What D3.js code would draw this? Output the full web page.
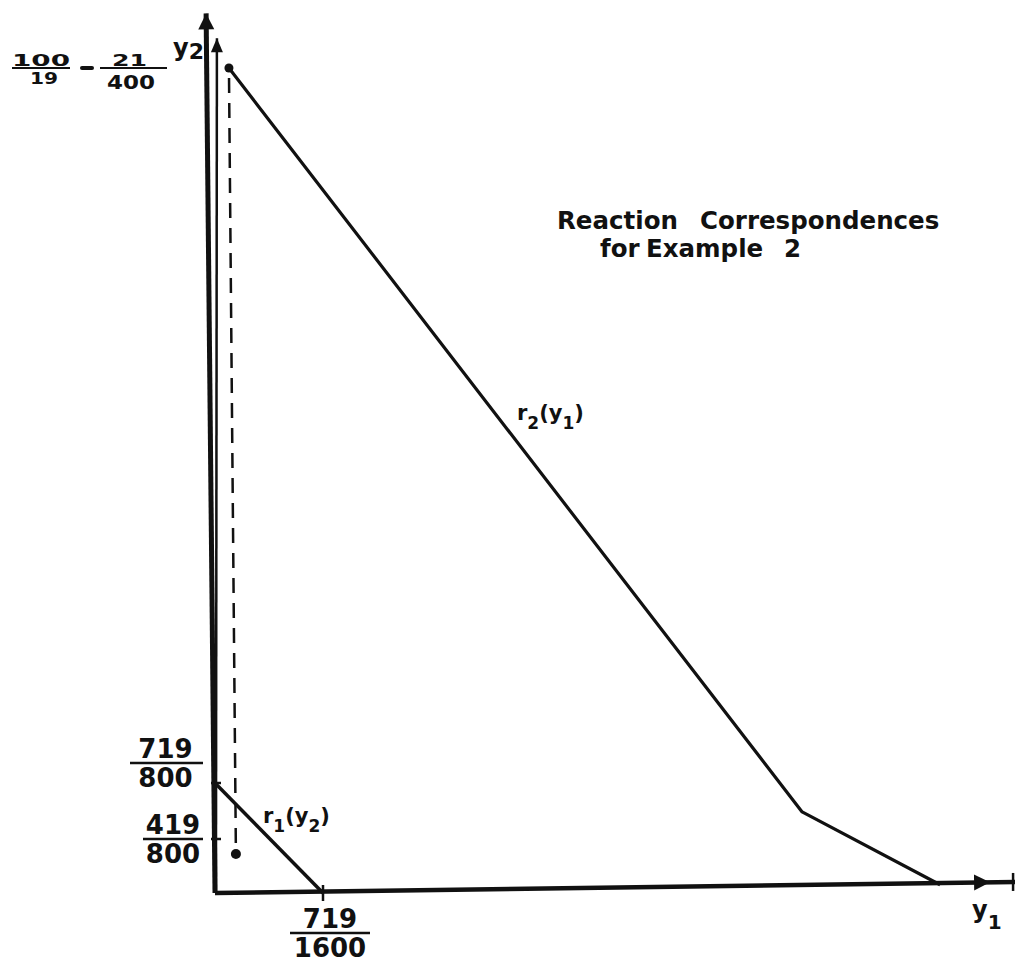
<!DOCTYPE html>
<html>
<head>
<meta charset="utf-8">
<script src="https://cdn.jsdelivr.net/npm/d3@7"></script>
<style>
  html, body { margin: 0; padding: 0; background: #fff; }
  svg text { font-family: "DejaVu Sans", sans-serif; font-weight: bold; fill: #111; }
</style>
</head>
<body>
<div id="chart"></div>
<script>
var width = 1015,
  height = 971;

// values (y1 across, y2 up)
var y2Top = 100 / 19 - 21 / 400;          // top of r2
var y2Ticks = [419 / 800, 719 / 800];
var y2TickNum = ["419", "719"];
var y2TickDen = ["800", "800"];
var y1Ticks = [719 / 1600];
var y1TickNum = ["719"];
var y1TickDen = ["1600"];

var r1Points = [[0, 719 / 800], [719 / 1600, 0]];
var r2Points = [[0.058, y2Top], [2.443, 0.705], [3.017, 0.08]];
var dotPoints = [[0.058, y2Top], [0.087, 0.378]];

// the hand drawn axes lean a little
var xAxisPoints = [[0, 0], [3.329, 0.107]];
var yAxisOuter = [[0, 0], [-0.037, 5.54]];
var yAxisInner = [[0.004, 0], [0.008, 5.39]];

var svg = d3.select("#chart")
  .append("svg")
  .attr("width", width)
  .attr("height", height);

// piecewise scale, the sketch is not to scale on y2
var x = d3.scaleLinear()
  .domain([0, 719 / 1600])
  .range([215, 323]);

var y = d3.scaleLinear()
  .domain([0, 419 / 800, 719 / 800, y2Top])
  .range([893, 839, 783, 68]);

var line = d3.line()
  .x(function (d) { return x(d[0]); })
  .y(function (d) { return y(d[1]); });

var ink = "#111";

function arrowHead(p0, p1, len, half) {
  var x0 = x(p0[0]), y0 = y(p0[1]), x1 = x(p1[0]), y1 = y(p1[1]);
  var dx = x1 - x0, dy = y1 - y0, L = Math.sqrt(dx * dx + dy * dy);
  var ux = dx / L, uy = dy / L;
  var bx = x1 - ux * len, by = y1 - uy * len;
  svg.append("path")
    .attr("d", "M" + x1 + "," + y1 +
      "L" + (bx - uy * half) + "," + (by + ux * half) +
      "L" + (bx + uy * half) + "," + (by - ux * half) + "Z")
    .attr("fill", ink);
}

// axes
svg.append("path").datum(yAxisOuter).attr("d", line)
  .attr("stroke", ink).attr("stroke-width", 5).attr("fill", "none");
arrowHead(yAxisOuter[0], yAxisOuter[1], 16, 8);

svg.append("path").datum(yAxisInner).attr("d", line)
  .attr("stroke", ink).attr("stroke-width", 2.5).attr("fill", "none");
arrowHead(yAxisInner[0], yAxisInner[1], 14, 6);

svg.append("path").datum(xAxisPoints).attr("d", line)
  .attr("stroke", ink).attr("stroke-width", 4.5).attr("fill", "none");
// arrow sits a bit before the end of the x axis
var tipX = 3.225;
var tipPoint = [tipX, xAxisPoints[1][1] * tipX / xAxisPoints[1][0]];
arrowHead(xAxisPoints[0], tipPoint, 16, 8);
var endX = x(xAxisPoints[1][0]) - 2, endY = y(xAxisPoints[1][1]);
svg.append("line")
  .attr("x1", endX).attr("x2", endX)
  .attr("y1", endY - 9).attr("y2", endY + 9)
  .attr("stroke", ink).attr("stroke-width", 2.5);

// ticks
y2Ticks.forEach(function (v) {
  svg.append("line")
    .attr("x1", x(0) - 4).attr("x2", x(0) + 6)
    .attr("y1", y(v)).attr("y2", y(v))
    .attr("stroke", ink).attr("stroke-width", 2.5);
});
y1Ticks.forEach(function (v) {
  svg.append("line")
    .attr("x1", x(v)).attr("x2", x(v))
    .attr("y1", y(0) - 8).attr("y2", y(0) + 8)
    .attr("stroke", ink).attr("stroke-width", 2.5);
});

// dashed drop line
svg.append("path").datum(dotPoints).attr("d", line)
  .attr("stroke", ink).attr("stroke-width", 2.5)
  .attr("stroke-dasharray", "15,10").attr("stroke-dashoffset", -10)
  .attr("fill", "none");

// reaction curves
svg.append("path").datum(r1Points).attr("d", line)
  .attr("stroke", ink).attr("stroke-width", 3.5).attr("fill", "none");
svg.append("path").datum(r2Points).attr("d", line)
  .attr("stroke", ink).attr("stroke-width", 3.2)
  .attr("stroke-linejoin", "round").attr("fill", "none");

svg.selectAll(".dot")
  .data(dotPoints)
  .enter().append("circle")
  .attr("class", "dot")
  .attr("cx", function (d) { return x(d[0]); })
  .attr("cy", function (d) { return y(d[1]); })
  .attr("r", function (d, i) { return i == 0 ? 4.5 : 5; })
  .attr("fill", ink);

// fraction helper
function fraction(cx, barY, num, den, size) {
  svg.append("text").attr("x", cx).attr("y", barY - 5)
    .attr("text-anchor", "middle").attr("font-size", size).text(num);
  svg.append("text").attr("x", cx).attr("y", barY + 24)
    .attr("text-anchor", "middle").attr("font-size", size).text(den);
}

// y2 tick labels, right end of bar near the axis
y2Ticks.forEach(function (v, i) {
  var barY = i == 1 ? y(v) - 20 : y(v);
  var w = 55 + (i == 1 ? 18 : 5);
  var cx = 203 - w / 2;
  fraction(cx + (i == 1 ? -1 : 0), barY, y2TickNum[i], y2TickDen[i], 26);
  svg.append("line")
    .attr("x1", 203 - w).attr("x2", 203)
    .attr("y1", barY).attr("y2", barY)
    .attr("stroke", ink).attr("stroke-width", 2.5);
});

// y1 tick labels
y1Ticks.forEach(function (v, i) {
  var barY = y(0) + 40;
  var cx = x(v) + 7;
  fraction(cx, barY, y1TickNum[i], y1TickDen[i], 26);
  svg.append("line")
    .attr("x1", cx - 40).attr("x2", cx + 40)
    .attr("y1", barY).attr("y2", barY)
    .attr("stroke", ink).attr("stroke-width", 2.5);
});

// top label: 100/19 - 21/400 (flat, wide digits in the sketch)
var topY = y(y2Top);
function stretched(x0, by, str, size, len) {
  svg.append("text")
    .attr("x", x0).attr("y", by)
    .attr("font-size", size)
    .attr("textLength", len)
    .attr("lengthAdjust", "spacingAndGlyphs")
    .text(str);
}
stretched(12, topY - 2, "100", 15, 58);
stretched(30, topY + 16, "19", 15, 28);
svg.append("line").attr("x1", 12).attr("x2", 70).attr("y1", topY).attr("y2", topY)
  .attr("stroke", ink).attr("stroke-width", 2);
svg.append("line").attr("x1", 82).attr("x2", 92).attr("y1", topY).attr("y2", topY)
  .attr("stroke", ink).attr("stroke-width", 4).attr("stroke-linecap", "round");
stretched(112, topY - 2, "21", 15, 35);
stretched(107, topY + 21, "400", 19, 48);
svg.append("line").attr("x1", 100).attr("x2", 167).attr("y1", topY).attr("y2", topY)
  .attr("stroke", ink).attr("stroke-width", 2);

// axis names
var yl = svg.append("text").attr("x", 173).attr("y", 56).attr("font-size", 24);
yl.append("tspan").text("y");
yl.append("tspan").attr("font-size", 22).attr("dy", 3).text("2");

var xl = svg.append("text").attr("x", 972).attr("y", 918).attr("font-size", 24);
xl.append("tspan").text("y");
xl.append("tspan").attr("font-size", 20).attr("dy", 11).text("1");

// curve names
function curveName(px, py, r, s1, s2) {
  var t = svg.append("text").attr("x", px).attr("y", py).attr("font-size", 21);
  t.append("tspan").text(r);
  t.append("tspan").attr("font-size", 17).attr("dy", 9).text(s1);
  t.append("tspan").attr("dy", -9).text("(y");
  t.append("tspan").attr("font-size", 17).attr("dy", 9).text(s2);
  t.append("tspan").attr("dy", -9).text(")");
}
curveName(517, 420, "r", "2", "1");
curveName(263, 823, "r", "1", "2");

// title
var title = [
  { word: "Reaction", x: 557, y: 229 },
  { word: "Correspondences", x: 700, y: 229 },
  { word: "for", x: 600, y: 257 },
  { word: "Example", x: 646, y: 257 },
  { word: "2", x: 784, y: 257 }
];
svg.selectAll(".title")
  .data(title)
  .enter().append("text")
  .attr("class", "title")
  .attr("x", function (d) { return d.x; })
  .attr("y", function (d) { return d.y; })
  .attr("font-size", 24.5)
  .text(function (d) { return d.word; });
</script>
</body>
</html>
